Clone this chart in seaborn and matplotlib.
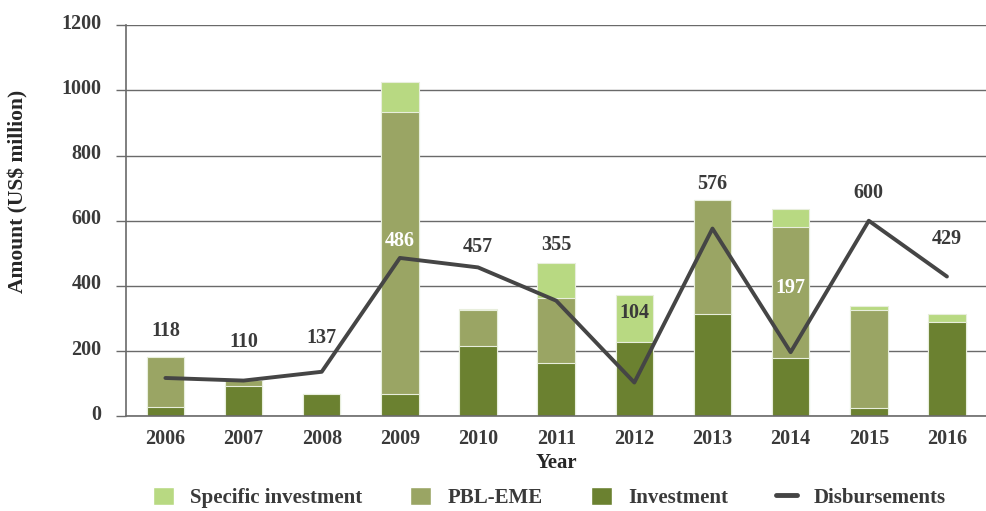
import numpy as np
import pandas as pd
import matplotlib.pyplot as plt
import matplotlib.transforms as mtransforms
import seaborn as sns
from matplotlib.patches import Patch
from matplotlib.lines import Line2D

# Data
years = ['2006', '2007', '2008', '2009', '2010', '2011', '2012', '2013', '2014', '2015', '2016']
investment = [30, 92, 70, 70, 216, 165, 229, 313, 178, 26, 291]
pbl_eme = [153, 20, 0, 862, 110, 199, 0, 352, 403, 300, 0]
specific = [0, 0, 0, 92, 4, 105, 144, 0, 54, 14, 22]
disbursements = [118, 110, 137, 486, 457, 355, 104, 576, 197, 600, 429]

# label look (offset in points above the line point, colour)
label_offset = [34, 28, 24, 12, 15, 40, 50, 32, 46, 20, 27]
label_color = ['#3a3a3a'] * 11
label_color[3] = 'white'
label_color[8] = 'white'

c_spec = '#b8d982'
c_pbl = '#9aa564'
c_inv = '#6b8130'
c_line = '#454545'
c_text = '#3a3a3a'

df = pd.DataFrame({'Year': years, 'Investment': investment,
                   'PBL-EME': pbl_eme, 'Specific investment': specific,
                   'Disbursements': disbursements})
df['inv_pbl'] = df['Investment'] + df['PBL-EME']
df['total'] = df['inv_pbl'] + df['Specific investment']

sns.set_style('white')
plt.rcParams['font.family'] = ['Liberation Serif', 'DejaVu Serif']
plt.rcParams['font.weight'] = 'bold'
plt.rcParams['text.color'] = c_text
plt.rcParams['xtick.color'] = c_text
plt.rcParams['ytick.color'] = c_text

fig = plt.figure(figsize=(9.87, 5.11), dpi=100)
ax = fig.add_axes([0.128, 0.185, 0.871, 0.766])

# Stacked bars: draw cumulative totals back to front
for col, c in [('total', c_spec), ('inv_pbl', c_pbl), ('Investment', c_inv)]:
    sns.barplot(data=df, x='Year', y=col, color=c, width=0.48, ax=ax,
                edgecolor='#e8eedc', linewidth=0.8, saturation=1, zorder=2)

sns.lineplot(x=np.arange(len(years)), y=df['Disbursements'], color=c_line,
             linewidth=2.8, ax=ax, zorder=4)

for i, v in enumerate(disbursements):
    ax.annotate(str(v), (i, v), xytext=(0, label_offset[i]), textcoords='offset points',
                ha='center', va='center', fontsize=14.5, fontweight='bold',
                color=label_color[i], zorder=5)

ax.set_ylim(0, 1200)
ax.set_xlim(-0.5, 10.5)
ax.set_yticks(range(0, 1201, 200))
ax.yaxis.grid(True, color='#6a6a6a', linewidth=1.0)
ax.set_axisbelow(True)

ax.set_xticks(range(len(years)))
ax.set_xticklabels(years)
ax.set_xticks(np.arange(-0.5, 11, 1), minor=True)
ax.tick_params(axis='x', which='major', length=0, pad=9, labelsize=14.5)
ax.tick_params(axis='x', which='minor', length=6, color='#6a6a6a', width=1)
ax.tick_params(axis='y', length=7, color='#6a6a6a', width=1, labelsize=14.5, pad=11, left=True)

# y tick labels sit a little above their ticks
shift = mtransforms.ScaledTranslation(0, 4 / 100, fig.dpi_scale_trans)
for lab in ax.get_yticklabels():
    lab.set_transform(lab.get_transform() + shift)

for s in ['top', 'right']:
    ax.spines[s].set_visible(False)
for s in ['left', 'bottom']:
    ax.spines[s].set_color('#6a6a6a')
    ax.spines[s].set_linewidth(1.2)

ax.set_xlabel('Year', fontsize=15, fontweight='bold', labelpad=3)
ax.set_ylabel('Amount (US$ million)', fontsize=15.5, fontweight='bold')
ax.yaxis.set_label_coords(-0.114, 0.575)

handles = [Patch(facecolor=c_spec, label='Specific investment'),
           Patch(facecolor=c_pbl, label='PBL-EME'),
           Patch(facecolor=c_inv, label='Investment'),
           Line2D([0], [0], color=c_line, linewidth=3.5, label='Disbursements')]
ax.legend(handles=handles, loc='center', bbox_to_anchor=(0.492, -0.207),
          ncol=4, frameon=False, fontsize=15, handlelength=1.0, handleheight=1.0,
          columnspacing=2.3, handletextpad=0.8, borderpad=0.1)

fig.savefig('out.png', dpi=100)
